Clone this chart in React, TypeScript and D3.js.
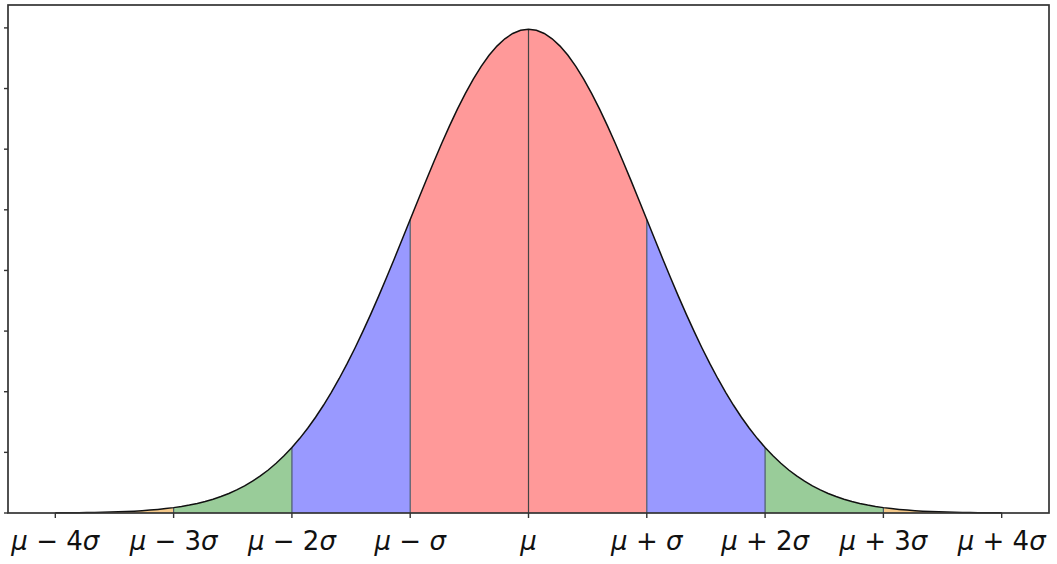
import React from "react";
import * as d3 from "d3";

// Band edges in units of sigma and their fill colours (matplotlib colour + alpha 0.4 over white)
const bandEdges = [
  [-4, -3],
  [-3, -2],
  [-2, -1],
  [-1, 1],
  [1, 2],
  [2, 3],
  [3, 4],
];
const bandColors = ["#f5c98a", "#99cc99", "#9999ff", "#ff9999", "#9999ff", "#99cc99", "#f5c98a"];
const divider = [-3, -2, -1, 0, 1, 2, 3];
const xTicks = [-4, -3, -2, -1, 0, 1, 2, 3, 4];
const xTickLabels = ["μ − 4σ", "μ − 3σ", "μ − 2σ", "μ − σ", "μ", "μ + σ", "μ + 2σ", "μ + 3σ", "μ + 4σ"];
const yTicks = [0, 0.05, 0.1, 0.15, 0.2, 0.25, 0.3, 0.35, 0.4];

const W = 1057;
const H = 564;
const left = 8;
const right = 1049;
const top = 5;
const bottom = 513;

const pdf = (z: number) => Math.exp(-0.5 * z * z) / Math.sqrt(2 * Math.PI);

function Label({ text, x }: { text: string; x: number }) {
  const parts: { s: string; it: boolean }[] = [];
  for (const ch of text) {
    const it = ch === "μ" || ch === "σ";
    parts.push({ s: ch, it });
  }
  return (
    <text x={x} y={550} textAnchor="middle" fontFamily="DejaVu Sans" fontSize={26} fill="#111" xmlSpace="preserve">
      {parts.map((p, i) => (
        <tspan key={i} fontStyle={p.it ? "italic" : "normal"}>
          {p.s}
        </tspan>
      ))}
    </text>
  );
}

export default function App() {
  const x = d3.scaleLinear().domain([-4.4, 4.4]).range([left, right]);
  const y = d3.scaleLinear().domain([0, 0.41888]).range([bottom, top]);

  const sample = (a: number, b: number) => {
    const n = 120;
    return d3.range(n + 1).map((i) => a + ((b - a) * i) / n);
  };
  const area = d3
    .area<number>()
    .x((d) => x(d))
    .y0(y(0))
    .y1((d) => y(pdf(d)));
  const line = d3
    .line<number>()
    .x((d) => x(d))
    .y((d) => y(pdf(d)));

  return (
    <svg width={W} height={H} style={{ position: "absolute", left: 0, top: 0, background: "#fff" }}>
      {bandEdges.map(([a, b], i) => (
        <path key={i} d={area(sample(a, b)) || ""} fill={bandColors[i]} stroke="none" />
      ))}
      {divider.map((d) => (
        <line
          key={d}
          x1={x(d)}
          x2={x(d)}
          y1={y(0)}
          y2={y(pdf(d))}
          stroke={d === 0 ? "#444" : "#4a5a6a"}
          strokeWidth={1.2}
        />
      ))}
      <path d={line(sample(-4, 4)) || ""} fill="none" stroke="#111" strokeWidth={1.5} />
      <rect x={left} y={top} width={right - left} height={bottom - top} fill="none" stroke="#333" strokeWidth={1.7} />
      {yTicks.map((t) => (
        <line key={t} x1={left - 4} x2={left} y1={y(t)} y2={y(t)} stroke="#333" strokeWidth={1.4} />
      ))}
      {xTicks.map((t) => (
        <line key={t} x1={x(t)} x2={x(t)} y1={bottom} y2={bottom + 5} stroke="#333" strokeWidth={1.4} />
      ))}
      {xTicks.map((t, i) => (
        <Label key={t} text={xTickLabels[i]} x={x(t)} />
      ))}
    </svg>
  );
}
